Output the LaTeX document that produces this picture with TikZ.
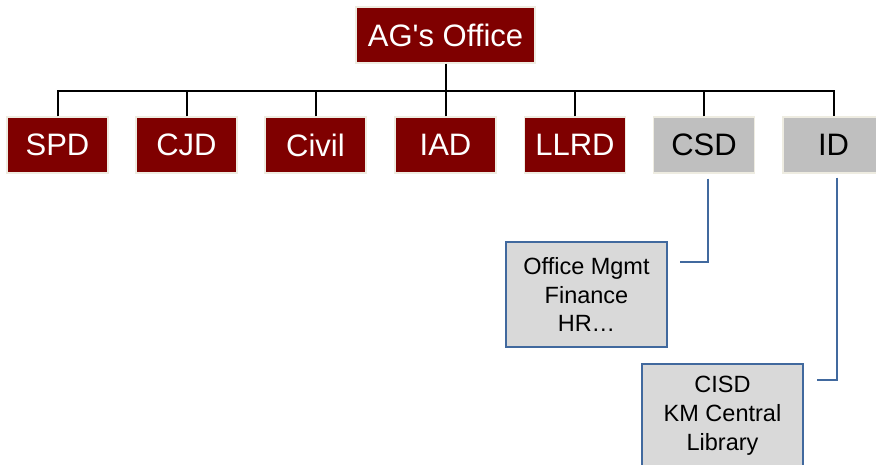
\documentclass[tikz,border=0pt]{standalone}
\usepackage{fontspec}
\setmainfont{Liberation Sans}
\usetikzlibrary{calc}
\definecolor{agred}{HTML}{7F0000}
\definecolor{cream}{HTML}{EEECE1}
\definecolor{midgray}{HTML}{BFBFBF}
\definecolor{lightgray}{HTML}{D9D9D9}
\definecolor{boxblue}{HTML}{41699E}
\begin{document}
\begin{tikzpicture}[x=1pt,y=-1pt,
  bigbox/.style={rectangle, draw=cream, line width=1.2pt, inner sep=0pt,
    minimum height=56pt, font=\fontsize{31}{31}\selectfont},
  redbox/.style={bigbox, fill=agred, text=white, minimum width=101pt},
  graybox/.style={bigbox, fill=midgray, text=black, minimum width=101pt},
  subbox/.style={rectangle, draw=boxblue, line width=2pt, fill=lightgray,
    inner sep=0pt, minimum width=161pt, minimum height=105pt, align=center,
    font=\fontsize{23.5}{28.8}\selectfont},
  conn/.style={draw=black, line width=2pt},
  blueconn/.style={draw=boxblue, line width=2pt}]
\useasboundingbox (0,0) rectangle (876,464);
\clip (0,0) rectangle (876,464);
\fill[white] (0,0) rectangle (876,464);

\node[redbox, minimum width=179pt] (ag) at (445.5,35) {AG\textquotesingle s Office};
\node[redbox] (spd) at (57.5,145) {SPD};
\node[redbox] (cjd) at (186.5,145) {CJD};
\node[redbox] (civil) at (315.5,145) {Civil};
\node[redbox] (iad) at (445.5,145) {IAD};
\node[redbox] (llrd) at (575,145) {LLRD};
\node[graybox] (csd) at (704,145) {CSD};
\node[graybox] (id) at (833.5,145) {ID};

\node[subbox] (office) at (586.5,294.5) {Office Mgmt\\Finance\\HR…};
\node[subbox] (cisd) at (722.5,416) {CISD\\KM Central\\Library};

\coordinate (bus) at (0,90.5);
\draw[conn] (ag.south) -- (ag.south |- bus);
\draw[conn] (spd.north) |- (bus -| id.north) -- (id.north);
\foreach \b in {cjd,civil,iad,llrd,csd}
  \draw[conn] (\b.north) -- (\b.north |- bus);

\coordinate (csdend) at (680,262);
\coordinate (idend) at (817,380);
\draw[blueconn] ($(csd.south)+(4,5)$) |- (csdend);
\draw[blueconn] ($(id.south)+(3.5,4)$) |- (idend);
\end{tikzpicture}
\end{document}
